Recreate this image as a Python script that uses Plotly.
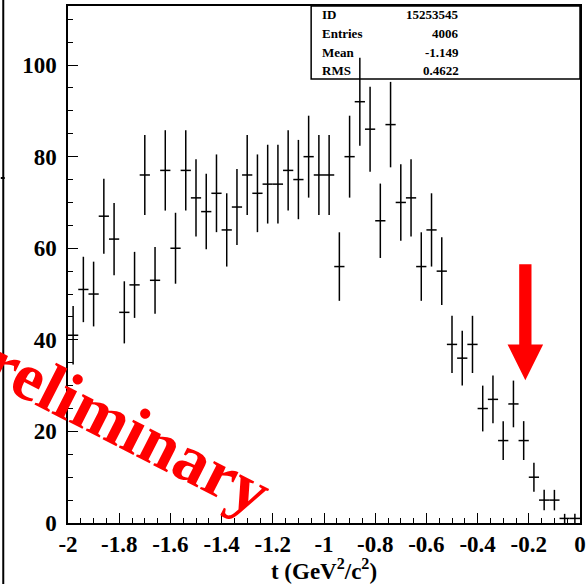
import numpy as np
import plotly.graph_objects as go

# ---- data ----
bin_centers = [-1.98, -1.94, -1.90, -1.86, -1.82, -1.78, -1.74, -1.70, -1.66, -1.62,
               -1.58, -1.54, -1.50, -1.46, -1.42, -1.38, -1.34, -1.30, -1.26, -1.22,
               -1.18, -1.14, -1.10, -1.06, -1.02, -0.98, -0.94, -0.90, -0.86, -0.82,
               -0.78, -0.74, -0.70, -0.66, -0.62, -0.58, -0.54, -0.50, -0.46, -0.42,
               -0.38, -0.34, -0.30, -0.26, -0.22, -0.18, -0.14, -0.10, -0.06, -0.02]
counts = [41, 51, 50, 67, 62, 46, 52, 76, 53, 77,
          60, 77, 71, 68, 72, 64, 69, 76, 72, 74,
          74, 77, 75, 80, 76, 76, 56, 80, 92, 86,
          66, 87, 70, 71, 56, 64, 55, 39, 36, 39,
          25, 27, 18, 26, 18, 10, 5, 5, 1, 1]
bin_half_width = 0.02
x_tickvals = [-2, -1.8, -1.6, -1.4, -1.2, -1, -0.8, -0.6, -0.4, -0.2, 0]
x_ticktext = ["-2", "-1.8", "-1.6", "-1.4", "-1.2", "-1", "-0.8", "-0.6", "-0.4", "-0.2", "0"]
y_tickvals = [0, 20, 40, 60, 80, 100]
stats_labels = ["ID", "Entries", "Mean", "RMS"]
stats_values = ["15253545", "4006", "-1.149", "0.4622"]
arrow_x = -0.2135
arrow_tip_y = 31.2
arrow_head_y = 39.0
arrow_top_y = 56.5

errors = np.sqrt(np.array(counts, dtype=float))

W, H = 588, 584
L, R, T, B = 68, 2, 6, 61
FONT = "Liberation Serif"

fig = go.Figure()
fig.add_trace(go.Scatter(
    x=bin_centers, y=counts, mode="markers",
    marker=dict(size=1, color="black"),
    error_x=dict(type="constant", value=bin_half_width, width=0, thickness=1.5, color="black"),
    error_y=dict(type="data", array=errors, width=0, thickness=1.5, color="black"),
    showlegend=False, hoverinfo="skip",
))

# arrow
sw, hw = 0.024, 0.0695
path = (f"M {arrow_x - sw},{arrow_top_y} L {arrow_x + sw},{arrow_top_y} "
        f"L {arrow_x + sw},{arrow_head_y} L {arrow_x + hw},{arrow_head_y} "
        f"L {arrow_x},{arrow_tip_y} L {arrow_x - hw},{arrow_head_y} "
        f"L {arrow_x - sw},{arrow_head_y} Z")
fig.add_shape(type="path", path=path, xref="x", yref="y",
              fillcolor="#ff0000", line=dict(width=0))

pw, ph = W - L - R, H - T - B
def px(xp):
    return (xp - L) / pw
def py(yp):
    return (H - B - yp) / ph

# stats box
fig.add_shape(type="rect", xref="paper", yref="paper",
              x0=px(314), x1=1, y0=py(79), y1=1,
              line=dict(color="black", width=1.5), fillcolor="rgba(0,0,0,0)")
row_y = [14.7, 34, 52.3, 70]
for lab, val, ry in zip(stats_labels, stats_values, row_y):
    fig.add_annotation(x=px(323), y=py(ry), xref="paper", yref="paper",
                       text=lab, showarrow=False, xanchor="left", yanchor="middle",
                       font=dict(family=FONT, size=13, color="black", weight="bold"))
    fig.add_annotation(x=px(466), y=py(ry), xref="paper", yref="paper",
                       text=val, showarrow=False, xanchor="right", yanchor="middle",
                       font=dict(family=FONT, size=13, color="black", weight="bold"))

# outer frame line at left edge
fig.add_shape(type="line", xref="paper", yref="paper",
              x0=px(2.5), x1=px(2.5), y0=py(H + 5), y1=py(-5),
              line=dict(color="black", width=2))
fig.add_shape(type="line", xref="paper", yref="paper",
              x0=px(0), x1=px(4), y0=py(178), y1=py(178),
              line=dict(color="black", width=2))

# Preliminary watermark
fig.add_annotation(x=px(110), y=py(417), xref="paper", yref="paper",
                   text="Preliminary", showarrow=False, textangle=27,
                   xanchor="center", yanchor="middle",
                   font=dict(family=FONT, size=68, color="#ff0000", weight="bold"))

axis_font = dict(family=FONT, size=23, color="black", weight="bold")
fig.update_layout(
    width=W, height=H,
    margin=dict(l=L, r=R, t=T, b=B),
    paper_bgcolor="white", plot_bgcolor="white",
    xaxis=dict(range=[-2, 0], showgrid=False, zeroline=False,
               showline=True, linecolor="black", linewidth=1.5, mirror=True,
               ticks="inside", ticklen=10, tickwidth=1.2, tickcolor="black",
               tickvals=x_tickvals, ticktext=x_ticktext, tickfont=axis_font,
               ticklabeloverflow="allow",
               minor=dict(tick0=-2, dtick=0.05, ticks="inside", ticklen=5,
                          tickwidth=1.2, tickcolor="black", showgrid=False),
               title=dict(text="t (GeV<sup>2</sup>/c<sup>2</sup>)", font=axis_font, standoff=2)),
    yaxis=dict(range=[0, 112.9], showgrid=False, zeroline=False,
               showline=True, linecolor="black", linewidth=1.5, mirror=True,
               ticks="inside", ticklen=10, tickwidth=1.2, tickcolor="black",
               tickvals=y_tickvals, tickfont=axis_font, ticklabelstandoff=5,
               ticklabeloverflow="allow",
               minor=dict(tick0=0, dtick=5, ticks="inside", ticklen=5,
                          tickwidth=1.2, tickcolor="black", showgrid=False)),
)

fig.write_html("out.html")
